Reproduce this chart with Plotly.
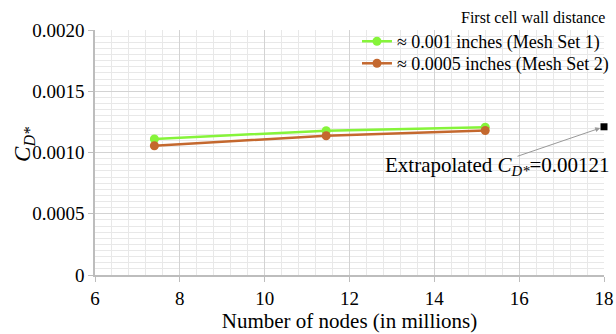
import plotly.graph_objects as go

nodes = [7.4, 11.45, 15.2]
cd_set1 = [0.00111, 0.001178, 0.001206]
cd_set2 = [0.001055, 0.001137, 0.00118]
extrap_x = [18]
extrap_y = [0.00121]
names = ["≈ 0.001 inches (Mesh Set 1)", "≈ 0.0005 inches (Mesh Set 2)"]
colors = ["#86F43A", "#C4682E"]

FONT = "Liberation Serif, Times New Roman, serif"

fig = go.Figure()
for xs, ys, nm, c, lg in [(nodes, cd_set1, names[0], colors[0], "legend"),
                          (nodes, cd_set2, names[1], colors[1], "legend2")]:
    fig.add_trace(go.Scatter(x=xs, y=ys, name=nm, mode="lines+markers", legend=lg,
                             line=dict(color=c, width=2.5),
                             marker=dict(color=c, size=9)))
fig.add_trace(go.Scatter(x=extrap_x, y=extrap_y, mode="markers", showlegend=False,
                         marker=dict(color="black", symbol="square", size=7),
                         cliponaxis=False))

leg_common = dict(xref="container", yref="container", x=0.5795, xanchor="left",
                  yanchor="top", bgcolor="rgba(0,0,0,0)", font=dict(size=18),
                  itemwidth=30)
fig.update_layout(
    width=616, height=334,
    margin=dict(l=95, r=12, t=30, b=59, autoexpand=False),
    plot_bgcolor="white", paper_bgcolor="white",
    font=dict(family=FONT, size=19, color="black"),
    showlegend=True,
    legend=dict(y=0.931, **leg_common),
    legend2=dict(y=0.865, **leg_common),
)
fig.update_xaxes(range=[6, 18], dtick=2, tick0=6, automargin=False,
                 showgrid=True, gridcolor="#d3d3d3", gridwidth=1,
                 minor=dict(dtick=0.4, showgrid=True, gridcolor="#e8e8e8", ticks=""),
                 showline=True, linecolor="#bdbdbd", linewidth=1.5,
                 ticks="outside", ticklen=5, tickcolor="#bdbdbd",
                 zeroline=False,
                 title=dict(text="Number of nodes (in millions)", font=dict(size=21), standoff=1),
                 tickfont=dict(size=19))
fig.update_yaxes(range=[0, 0.002], automargin=False,
                 tickvals=[0, 0.0005, 0.001, 0.0015, 0.002],
                 ticktext=["0", "0.0005", "0.0010", "0.0015", "0.0020"],
                 showgrid=True, gridcolor="#d3d3d3", gridwidth=1,
                 minor=dict(dtick=0.00005, showgrid=True, gridcolor="#e8e8e8", ticks=""),
                 showline=True, linecolor="#bdbdbd", linewidth=1.5,
                 ticks="outside", ticklen=5, tickcolor="#bdbdbd",
                 zeroline=False, tickfont=dict(size=19))

# y-axis title
fig.add_annotation(text="<i>C</i><sub><i>D*</i></sub>", xref="paper", yref="y",
                   x=0, y=0.00107, xshift=-71, xanchor="center", yanchor="middle",
                   textangle=-90, showarrow=False, font=dict(size=23))
# legend title
fig.add_annotation(text="First cell wall distance", xref="paper", yref="paper",
                   x=1, y=1, xanchor="right", yanchor="bottom", yshift=2, xshift=3,
                   showarrow=False, font=dict(size=16))
# arrow
fig.add_annotation(x=18, y=0.00121, xref="x", yref="y", text="", showarrow=True,
                   ax=-88, ay=30, arrowhead=2, arrowsize=1, arrowwidth=1,
                   arrowcolor="#999999", standoff=4)
# text
fig.add_annotation(x=18, y=0.00089, xref="x", yref="y", xanchor="right", yanchor="middle",
                   xshift=8,
                   text="Extrapolated <i>C</i><sub><i>D*</i></sub>=0.00121", showarrow=False,
                   font=dict(size=21), bgcolor="rgba(255,255,255,0)")

fig.write_html("out.html")
